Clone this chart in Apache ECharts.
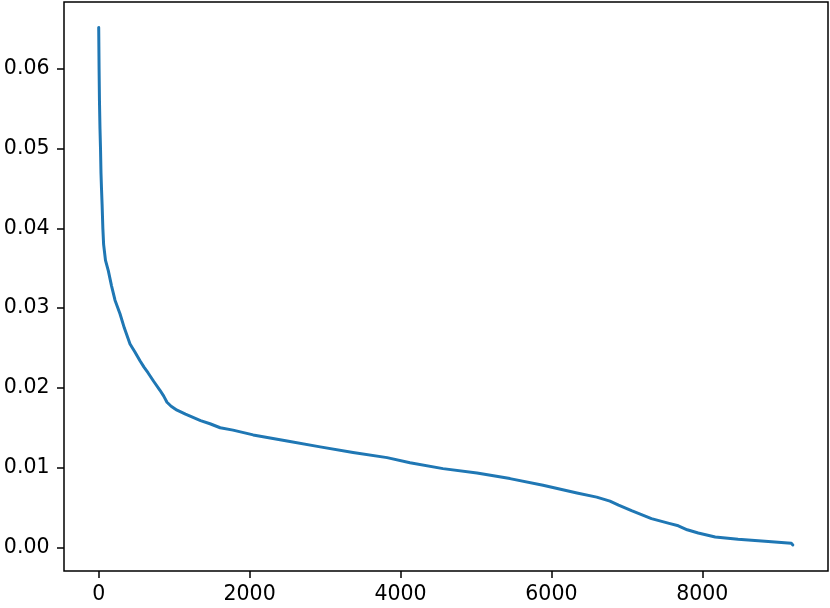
<!DOCTYPE html>
<html>
<head>
<meta charset="utf-8">
<script src="https://cdn.jsdelivr.net/npm/echarts@6/dist/echarts.min.js"></script>
<style>
html,body{margin:0;padding:0;background:#fff;}
#chart{width:830px;height:608px;}
</style>
</head>
<body>
<div id="chart"></div>
<script>
const xValues = [0,5,10,17,24,30,37,45,55,65,90,127,170,216,282,340,415,480,547,600,653,730,812,860,905,960,1038,1150,1250,1350,1475,1610,1780,2047,2497,2935,3371,3822,4126,4563,5014,5451,5889,6339,6600,6776,6890,7062,7326,7560,7682,7800,7946,8171,8474,8831,9134,9180,9200];
const yValues = [0.0652,0.060,0.056,0.0525,0.050,0.047,0.045,0.043,0.040,0.038,0.036,0.0347,0.0328,0.031,0.0293,0.0275,0.0255,0.0245,0.0234,0.0226,0.0219,0.0208,0.0197,0.019,0.0182,0.0177,0.0172,0.0167,0.0163,0.0159,0.0155,0.0150,0.0147,0.0141,0.01334,0.0126,0.0119,0.01125,0.0106,0.00987,0.00932,0.00862,0.00778,0.00681,0.0063,0.0058,0.0053,0.0046,0.0036,0.0030,0.0027,0.0022,0.0018,0.0013,0.0010,0.00075,0.00055,0.0005,0.0003];
const xTicks = [0,2000,4000,6000,8000];
const yTicks = [0,0.01,0.02,0.03,0.04,0.05,0.06];

const data = xValues.map((x,i)=>[x,yValues[i]]);
const chart = echarts.init(document.getElementById('chart'), null, {renderer:'canvas'});
const font = {fontFamily:'DejaVu Sans', fontSize:20.5, color:'#000'};
chart.setOption({
  animation:false,
  backgroundColor:'#fff',
  grid:{left:64, right:2, top:2, bottom:37, show:true, borderColor:'#000', borderWidth:1.5, backgroundColor:'transparent'},
  xAxis:{
    type:'value', min:-460, max:9666,
    splitLine:{show:false},
    axisLine:{show:false, onZero:false},
    axisTick:{show:true, length:7, inside:false, lineStyle:{color:'#000', width:1.5}, customValues:xTicks},
    axisLabel:Object.assign({margin:13, customValues:xTicks, formatter:v=>String(v)}, font)
  },
  yAxis:{
    type:'value', min:-0.00297, max:0.0684,
    splitLine:{show:false},
    axisLine:{show:false, onZero:false},
    axisTick:{show:true, length:7, inside:false, lineStyle:{color:'#000', width:1.5}, customValues:yTicks},
    axisLabel:Object.assign({margin:14.5, customValues:yTicks, formatter:v=>v.toFixed(2)}, font)
  },
  series:[{
    type:'line', data:data, showSymbol:false, smooth:false,
    lineStyle:{color:'#1f77b4', width:3, join:'round', cap:'round'}, itemStyle:{color:'#1f77b4'}
  }]
});
</script>
</body>
</html>
